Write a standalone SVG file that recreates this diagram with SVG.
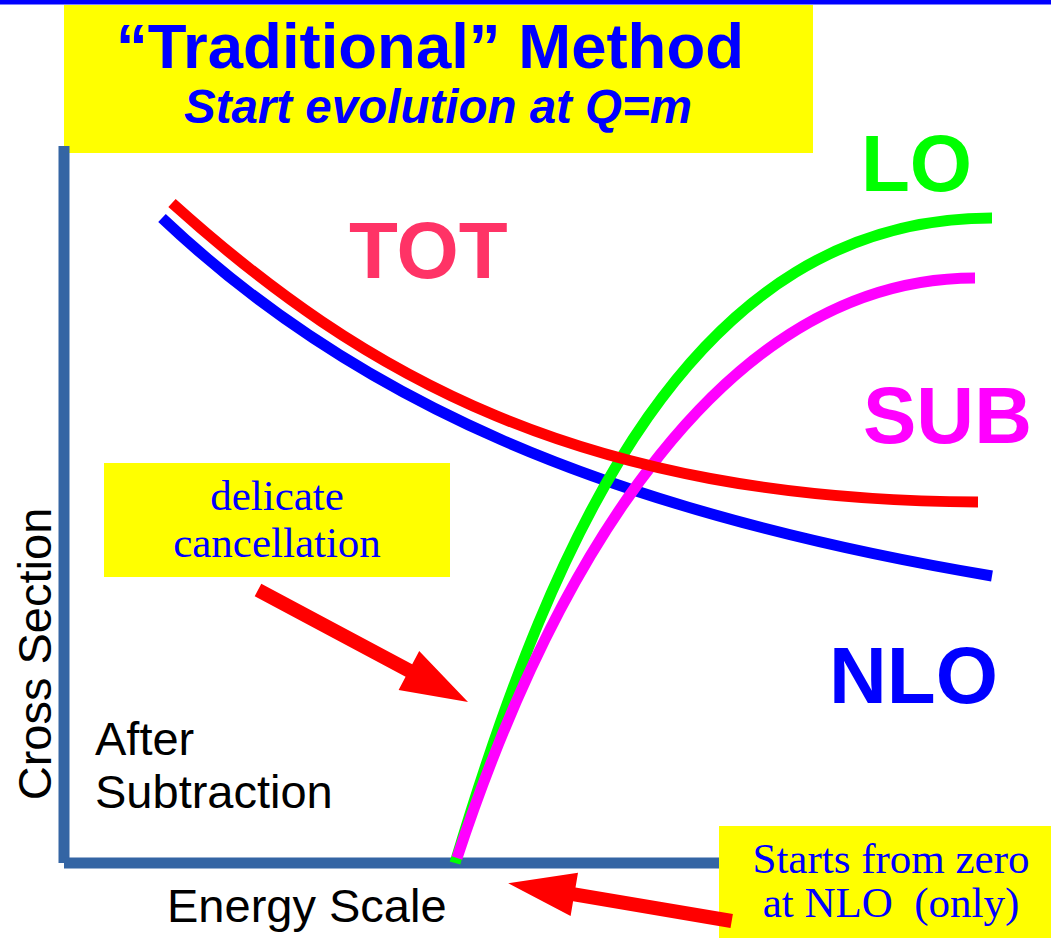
<svg xmlns="http://www.w3.org/2000/svg" width="1051" height="938" viewBox="0 0 1051 938">
<style>
.sans{font-family:"Liberation Sans",Arial,sans-serif}
.big{font-family:"Liberation Sans",Arial,sans-serif;font-weight:bold;font-size:80px}
.lbl{font-family:"Liberation Sans",Arial,sans-serif;font-size:47px;fill:#000}
.note{font-family:"Liberation Serif","Times New Roman",serif;font-size:43px;fill:#0000ff;text-anchor:middle}
.curve{fill:none;stroke-width:11;stroke-linecap:butt}
.axis{stroke:#3465a4;stroke-width:11;fill:none}
.yel{fill:#ffff00}
.arrow{fill:#ff0000}
</style>
<rect x="0" y="0" width="1051" height="938" fill="#ffffff"/>
<rect x="0" y="0" width="1051" height="4.5" fill="#0000ff"/>

<g id="title">
<rect class="yel" x="64" y="5" width="749" height="148"/>
<text class="sans" x="430" y="68" text-anchor="middle" font-size="63.5" font-weight="bold" fill="#0000ff">“Traditional” Method</text>
<text class="sans" x="438" y="123" text-anchor="middle" font-size="47.5" font-weight="bold" font-style="italic" fill="#0000ff">Start evolution at Q=m</text>
</g>

<g id="axes">
<line class="axis" x1="64" y1="146" x2="64" y2="863"/>
<line class="axis" x1="64" y1="863" x2="740" y2="863"/>
</g>

<g id="axis-labels">
<text class="lbl" transform="translate(51,654) rotate(-90)" text-anchor="middle" font-size="48">Cross Section</text>
<text class="lbl" x="167" y="922">Energy Scale</text>
<text class="lbl" x="95" y="755">After</text>
<text class="lbl" x="95" y="808">Subtraction</text>
</g>

<g id="curves">
<path id="nlo-curve" class="curve" stroke="#0000ff" d="M162,218 C352,398 600,510 992,576"/>
<path id="lo-curve" class="curve" stroke="#00ff00" d="M455,863 C554,533 692,218 992,218"/>
<path id="sub-curve" class="curve" stroke="#ff00ff" d="M457,858 C556,558 725,278 975,278"/>
<path id="tot-curve" class="curve" stroke="#ff0000" d="M172,203 C362,374 578,500 978,502"/>
</g>

<g id="curve-labels">
<text id="tot" class="big" x="349" y="278" fill="#ff3366">TOT</text>
<text id="lo" class="big" x="861" y="191" fill="#00ff00">LO</text>
<text id="sub" class="big" x="863" y="443" fill="#ff00ff">SUB</text>
<text id="nlo" class="big" x="829" y="703" fill="#0000ff">NLO</text>
</g>

<g id="note-cancellation">
<rect class="yel" x="104" y="463" width="346" height="114"/>
<text class="note" x="277" y="510">delicate</text>
<text class="note" x="277" y="557">cancellation</text>
</g>

<g id="note-zero">
<rect class="yel" x="719" y="826" width="332" height="112"/>
<text class="note" x="891" y="873">Starts from zero</text>
<text class="note" x="891" y="917" xml:space="preserve">at NLO  (only)</text>
</g>

<g id="connectors">
<polygon class="arrow" points="261.3,583.8 412.2,664.3 419.2,651.1 468,702 398.6,689.9 405.6,676.7 254.7,596.2"/>
<polygon class="arrow" points="732.9,914.1 575.5,887.5 578,872.7 508.2,883.3 570.6,916.1 573.1,901.3 730.5,927.9"/>
</g>
</svg>
